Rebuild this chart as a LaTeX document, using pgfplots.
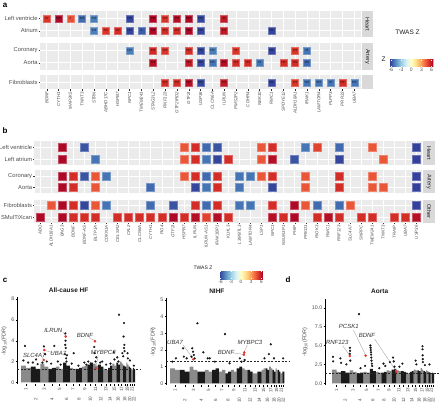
\documentclass[border=0pt]{standalone}
\usepackage{pgfplots}
\usepackage{pgfplotstable}
\pgfplotsset{compat=1.18}
\usepackage{fontspec}
\setmainfont{Liberation Sans}
\definecolor{bg}{HTML}{EBEBEB}
\definecolor{stripc}{HTML}{D9D9D9}
\definecolor{txt}{HTML}{4D4D4D}
\definecolor{dk}{HTML}{1A1A1A}
\definecolor{gy}{HTML}{8A8A8A}
\definecolor{hl}{HTML}{E8312A}
\definecolor{lead}{HTML}{A0A0A0}
\definecolor{lab}{HTML}{333333}
\newcommand\fs[1]{\fontsize{#1}{#1}\selectfont}
\newcommand\up[1]{\makebox[5pt]{#1}}
\newcommand\dn[1]{\makebox[5pt]{#1}\rule{10pt}{0pt}}
\newcommand\strip[3]{\fill[stripc] ([xshift=1pt]rel axis cs:1,0) rectangle ([xshift=#1]rel axis cs:1,1);
  \node[rotate=-90, font=\fs{5.5}, text=dk, inner sep=0pt] at ([xshift=#2]rel axis cs:1,0.5) {#3};}
\tikzset{
  glab/.style={font=\fs{6}\itshape, text=lab, inner sep=0pt},
  mtitle/.style={font=\bfseries\fs{6.5}, text=dk},
}
\pgfplotsset{
  /pgf/number format/assume math mode=true,
  colormap={rdylbu}{rgb255=(49,54,149) rgb255=(69,117,180) rgb255=(116,173,209) rgb255=(171,217,233) rgb255=(224,243,248) rgb255=(255,255,191) rgb255=(254,224,144) rgb255=(253,174,97) rgb255=(244,109,67) rgb255=(215,48,39) rgb255=(165,0,38)},
  hm/.style={scale only axis, clip=false, anchor=north west,
    axis background/.style={fill=bg}, axis line style={draw=none},
    grid=major, major grid style={white, line width=0.5pt},
    tick align=outside, tick pos=left, major tick length=1.2pt,
    tick style={black!80, line width=0.3pt},
    point meta min=-6.5, point meta max=6.5,
    yticklabel style={font=\fs{5.8}, text=txt, inner sep=1pt},
    xticklabel style={font=\fs{4.4}\itshape, text=txt, rotate=90, anchor=east, inner sep=1pt}},
  tiles/.style={scatter, only marks, mark=square*, mark size=#1, point meta=explicit,
    scatter/use mapped color={draw=mapped color!72!white, fill=mapped color}, line width=0.5pt},
  stars/.style={draw=none, mark=none, point meta=explicit symbolic,
    nodes near coords={\pgfplotspointmeta}, nodes near coords align=center,
    every node near coord/.append style={font=\fs{4}, inner sep=0pt, yshift=-0.7pt, text=black}},
  mh/.style={scale only axis, clip=false, anchor=north west,
    axis lines*=left, x axis line style={draw=none}, y axis line style={line width=0.55pt},
    tick align=outside, major tick length=1.5pt, tick style={black, line width=0.35pt},
    yticklabel style={font=\fs{5.3}, text=txt, inner sep=1pt},
    xticklabel style={font=\fs{4.6}, text=txt, rotate=90, anchor=east, inner sep=0.8pt},
    xtick={124,370,591,785,971,1147,1312,1465,1608,1747,1882,2016,2140,2251,2356,2452,2538,2619,2687,2748,2804,2853},
    xticklabels={\up{1},\dn{2},\up{3},\dn{4},\up{5},\dn{6},\up{7},\dn{8},\up{9},\dn{10},\up{11},\dn{12},\up{13},\dn{14},\up{15},\dn{16},\up{17},\dn{18},\up{19},\dn{20},\up{21},\dn{22}},
    ylabel={-log\textsubscript{10}(FDR)}, ylabel style={font=\fs{5.5}, text=txt}},
}

\pgfplotstableread{
x y z s
0 2 5.1 **
1 2 6.3 ***
2 2 4.5 *
3 2 -5.4 ***
4 2 -5.0 ***
7 2 -6.2 ***
9 2 6.3 ***
10 2 5.1 ***
11 2 6.1 ***
12 2 6.3 ***
13 2 -6.2 ***
15 2 5.8 **
4 1 -5.0 ***
5 1 5.1 ***
6 1 5.3 ***
7 1 -6.2 ***
8 1 -5.7 *
9 1 6.3 ***
10 1 5.3 ***
11 1 5.3 ***
12 1 6.3 ***
13 1 -6.2 ***
15 1 5.8 ***
19 1 -6.2 ***
}\aHeart
\pgfplotstableread{
x y z s
7 2 -5.0 ***
9 2 5.4 ***
10 2 5.1 ***
12 2 5.3 ***
13 2 -6.2 ***
14 2 -5.0 ***
16 2 5.1 **
19 2 -6.2 ***
21 2 5.1 ***
22 2 -5.2 **
9 1 6.1 ***
12 1 5.8 ***
13 1 -6.2 ***
14 1 -5.2 ***
15 1 6.1 ***
16 1 5.3 ***
17 1 5.3 ***
18 1 -5.2 **
20 1 5.3 ***
21 1 5.3 ***
22 1 -5.4 ***
}\aArtery
\pgfplotstableread{
x y z s
10 1 5.3 ***
11 1 5.3 ***
12 1 6.1 ***
13 1 -6.2 ***
15 1 5.8 ***
19 1 -6.2 ***
21 1 5.1 ***
22 1 -5.2 ***
23 1 -5.2 ***
24 1 -5.2 **
25 1 5.3 ***
26 1 -5.2 ***
}\aOther

\pgfplotstableread{
x y z
2 2 6.3
4 2 -5.9
13 2 4.4
14 2 5.3
15 2 -5.4
16 2 -5.9
20 2 4.4
21 2 5.3
24 2 -5.2
25 2 4.8
27 2 -5.4
30 2 4.4
34 2 -6.3
2 1 6.3
5 1 -5.2
13 1 4.4
14 1 5.3
15 1 -5.2
16 1 -6.2
17 1 5.3
20 1 4.4
21 1 6.1
23 1 -5.9
27 1 -6.2
31 1 4.4
34 1 -6.3
}\bHeart
\pgfplotstableread{
x y z
2 2 6.3
3 2 5.3
4 2 -5.9
5 2 4.4
6 2 -5.2
13 2 4.4
14 2 5.3
15 2 -5.4
16 2 5.3
18 2 -5.2
19 2 -5.2
20 2 4.4
21 2 5.3
24 2 4.4
27 2 5.3
30 2 4.4
34 2 -6.3
2 1 6.3
3 1 5.3
5 1 4.4
10 1 -5.4
14 1 -6.2
15 1 -5.2
16 1 5.3
18 1 -5.2
21 1 -6.2
24 1 4.4
27 1 5.3
30 1 4.4
31 1 4.4
34 1 -6.3
}\bArtery
\pgfplotstableread{
x y z
1 2 4.4
2 2 6.3
3 2 5.3
4 2 -6.2
5 2 4.4
6 2 -5.2
10 2 -5.4
12 2 -5.9
14 2 5.3
15 2 -5.4
16 2 5.3
18 2 -5.2
19 2 -5.2
21 2 5.3
23 2 6.3
24 2 4.4
25 2 -5.4
27 2 -5.4
28 2 4.4
34 2 -6.3
0 1 6.3
2 1 6.3
3 1 5.3
4 1 5.3
5 1 5.3
7 1 5.3
8 1 5.3
9 1 5.3
10 1 5.3
11 1 5.3
12 1 6.3
13 1 5.3
14 1 6.1
15 1 4.8
16 1 6.1
17 1 5.3
21 1 6.1
22 1 5.3
23 1 6.3
25 1 5.3
26 1 6.1
27 1 5.3
29 1 5.3
30 1 5.3
32 1 5.3
33 1 5.3
34 1 6.1
}\bOther

\begin{document}
\begin{tikzpicture}
\useasboundingbox (0,0) rectangle (440pt,-404pt);

% ---------------- panel a ----------------
\node[font=\bfseries\fs{8}] at (5pt,-5pt) {a};
\begin{axis}[hm, at={(40pt,-11.5pt)}, width=321pt, height=26pt,
  xmin=-0.57, xmax=26.57, ymin=0.45, ymax=2.55,
  xtick={0,...,26}, xticklabels={}, xtick style={draw=none},
  ytick={1,2}, yticklabels={Atrium,Left ventricle}]
\addplot[tiles=3.5pt] table[x=x,y=y,meta=z] {\aHeart};
\addplot[stars] table[x=x,y=y,meta=s] {\aHeart};
\strip{12pt}{6.5pt}{Heart}
\end{axis}
\begin{axis}[hm, at={(40pt,-43.5pt)}, width=321pt, height=26pt,
  xmin=-0.57, xmax=26.57, ymin=0.45, ymax=2.55,
  xtick={0,...,26}, xticklabels={}, xtick style={draw=none},
  ytick={1,2}, yticklabels={Aorta,Coronary},
  colorbar horizontal,
  colorbar style={at={(389.3pt,-51pt)}, anchor=north west, scale only axis,
    width=44pt, height=7.3pt, xtick={-6,-3,0,3,6},
    xticklabel style={font=\fs{5}, text=txt, inner sep=1pt},
    axis line style={draw=none}, major tick length=1.3pt, tick align=inside,
    xtick style={white, line width=0.4pt}}]
\addplot[tiles=3.5pt] table[x=x,y=y,meta=z] {\aArtery};
\addplot[stars] table[x=x,y=y,meta=s] {\aArtery};
\strip{12pt}{6.5pt}{Artery}
\end{axis}
\begin{axis}[hm, at={(40pt,-75.5pt)}, width=321pt, height=14pt,
  xmin=-0.57, xmax=26.57, ymin=0.45, ymax=1.55,
  xtick={0,...,26},
  xticklabels={BDNF,CYTH1,MAP2K5,TNNT3,STRN,ABHD17C,HSPB7,NPC1,TMEM241,STAG3L2,RNF123,GTF2IRD2,GTF2I,USP36,CLCN6A,ILRUN,PMS2P2,CDHR4,NEK10,RMC1,SPDYE12,ALDH18A1,IRAK1,LAMTOR4,PLPP3,PRR33,UBA7},
  ytick={1}, yticklabels={Fibroblasts}]
\addplot[tiles=3.5pt] table[x=x,y=y,meta=z] {\aOther};
\addplot[stars] table[x=x,y=y,meta=s] {\aOther};
\strip{12pt}{6.5pt}{}
\end{axis}
\node[font=\fs{6.5}, text=dk] at (407.5pt,-32.3pt) {TWAS Z};
\node[font=\fs{6.5}, text=dk] at (383.5pt,-59pt) {Z};

% ---------------- panel b ----------------
\node[font=\bfseries\fs{8}] at (5pt,-131pt) {b};
\begin{axis}[hm, at={(34.5pt,-141.5pt)}, width=387.5pt, height=23.5pt,
  xmin=-0.5, xmax=34.5, ymin=0.5, ymax=2.5,
  xtick={0,...,34}, xticklabels={}, xtick style={draw=none},
  ytick={1,2}, yticklabels={Left atrium,Left ventricle}]
\addplot[tiles=4pt] table[x=x,y=y,meta=z] {\bHeart};
\strip{13pt}{7pt}{Heart}
\end{axis}
\begin{axis}[hm, at={(34.5pt,-170pt)}, width=387.5pt, height=23.5pt,
  xmin=-0.5, xmax=34.5, ymin=0.5, ymax=2.5,
  xtick={0,...,34}, xticklabels={}, xtick style={draw=none},
  ytick={1,2}, yticklabels={Aorta,Coronary}]
\addplot[tiles=4pt] table[x=x,y=y,meta=z] {\bArtery};
\strip{13pt}{7pt}{Artery}
\end{axis}
\begin{axis}[hm, at={(34.5pt,-199.5pt)}, width=387.5pt, height=23.5pt,
  xmin=-0.5, xmax=34.5, ymin=0.5, ymax=2.5,
  xtick={0,...,34},
  xticklabels={ABO,ALDH18A1,BAG3,BDNF,BDNF-AS,BLTP1A,CDKN1A,CELSR2,CFL2,CLCN6A,CYTH1,FIG4,GTF2I,HSPB7,ILRUN,ILRUN-AS1,IRAK1BP1,KLHL3,L3MBTL3,LAMTOR4,LSP1,NPC1,NSUN3P1,PHIP,PRKD1,RIOK3,RMC1,RNF123,SLC4A7,SNRPC,TMEM241,TNNT3,TRAIP,UBA7,USP36},
  xticklabel style={font=\fs{4.3}\itshape},
  ytick={1,2}, yticklabels={SMulTiXcan,Fibroblasts},
  colorbar horizontal,
  colorbar style={at={(219pt,-262.5pt)}, anchor=north west, scale only axis,
    width=44pt, height=8pt, xtick={-6,-3,0,3,6},
    xticklabel style={font=\fs{4.6}, text=txt, inner sep=1pt},
    axis line style={draw=none}, major tick length=1.3pt, tick align=inside,
    xtick style={white, line width=0.4pt}}]
\addplot[tiles=4pt] table[x=x,y=y,meta=z] {\bOther};
\strip{13pt}{7pt}{Other}
\end{axis}
\node[font=\fs{5}, text=dk] at (203pt,-268pt) {TWAS Z};

% ---------------- panel c ----------------
\node[font=\bfseries\fs{8}] at (5pt,-280pt) {c};
\node[font=\bfseries\fs{8}] at (288pt,-280pt) {d};

% All-cause HF
\begin{axis}[mh, at={(17pt,-297pt)}, width=123pt, height=87.4pt,
  xmin=-101, xmax=3005, ymin=-0.2, ymax=8.2, ytick={0,2,4,6,8}]
\addplot[ybar interval, fill=gy, draw=none] coordinates {(0,1.6)(124,1.4)(249,0)(492,1.8)(591,1.5)(690,0)(881,1.5)(971,1.3)(1062,0)(1233,1.4)(1312,1.3)(1392,0)(1538,1.5)(1608,1.6)(1679,0)(1815,1.8)(1882,1.6)(1950,0)(2083,1.3)(2140,1.2)(2198,0)(2305,1.8)(2356,1.6)(2407,0)(2497,2.0)(2538,1.8)(2580,0)(2658,1.9)(2687,1.7)(2717,0)(2780,1.3)(2804,1.2)(2828,0)};
\addplot[ybar interval, fill=dk, draw=none] coordinates {(249,1.5)(370,1.3)(492,0)(690,1.3)(785,1.4)(881,0)(1062,1.9)(1147,1.6)(1233,0)(1392,1.3)(1465,1.4)(1538,0)(1679,1.7)(1747,1.9)(1815,0)(1950,1.7)(2016,1.5)(2083,0)(2198,1.4)(2251,1.6)(2305,0)(2407,1.9)(2452,1.7)(2497,0)(2580,1.6)(2619,1.5)(2658,0)(2717,1.5)(2748,1.4)(2780,0)(2828,1.4)(2853,1.3)(2879,0)};
\addplot[black!85, dash pattern=on 2pt off 1.5pt, line width=0.45pt] coordinates {(-101,1.3)(3005,1.3)};
\addplot[lead, line width=0.35pt] coordinates {(1068,4.8)(1125,4.45)};
\addplot[lead, line width=0.35pt] coordinates {(1720,4.3)(1865,4.0)};
\addplot[lead, line width=0.35pt] coordinates {(530,2.42)(570,2.2)};
\addplot[lead, line width=0.35pt] coordinates {(800,2.85)(600,3.08)};
\addplot[lead, line width=0.35pt] coordinates {(1950,2.65)(1890,1.4)};
\addplot[only marks, mark=*, mark size=0.9pt, dk] coordinates {(100,3.5)(60,2.1)(180,1.9)(300,1.9)(420,1.75)(380,2.2)(580,3.45)(610,2.7)(540,1.9)(650,2.0)(841,3.5)(760,1.8)(930,2.0)(1000,1.7)(1120,4.7)(1125,4.0)(1118,3.6)(1130,3.3)(1110,2.7)(1140,2.3)(1150,2.0)(1160,2.6)(1330,2.8)(1280,1.8)(1450,1.6)(1600,1.9)(1650,1.7)(1760,1.8)(1700,2.0)(1850,3.4)(1860,2.8)(1900,2.4)(1880,2.0)(2000,1.9)(2050,2.0)(2150,1.7)(2260,1.8)(2340,2.9)(2360,2.2)(2430,2.4)(2460,2.0)(2475,6.5)(2601,5.7)(2590,4.4)(2610,3.6)(2600,3.3)(2615,3.0)(2560,2.8)(2580,2.5)(2690,2.8)(2700,2.3)(2750,2.1)(2850,1.6)};
\addplot[only marks, mark=*, mark size=1.1pt, hl] coordinates {(573,2.15)(588,3.1)(1129,4.4)(1869,3.95)(1886,1.35)};
\node[glab] at (axis cs:816,4.96) {ILRUN};
\node[glab] at (axis cs:1616,4.48) {BDNF};
\node[glab] at (axis cs:333,2.62) {SLC4A7};
\node[glab] at (axis cs:942,2.79) {UBA7};
\node[glab] at (axis cs:2078,2.88) {MYBPC3};
\node[mtitle] at (rel axis cs:0.42,1.08) {All-cause HF};
\end{axis}

% NIHF
\begin{axis}[mh, at={(166pt,-298.3pt)}, width=124pt, height=86.7pt,
  xmin=-101, xmax=3023, ymin=-0.1, ymax=5.1, ytick={0,1,2,3,4,5}]
\addplot[ybar interval, fill=gy, draw=none] coordinates {(0,0.9)(124,0.8)(249,0)(492,1.0)(591,0.8)(690,0)(881,0.8)(971,0.7)(1062,0)(1233,0.7)(1312,0.8)(1392,0)(1538,0.8)(1608,0.7)(1679,0)(1815,0.9)(1882,0.8)(1950,0)(2083,0.6)(2140,0.6)(2198,0)(2305,0.8)(2356,0.9)(2407,0)(2497,1.0)(2538,0.9)(2580,0)(2658,0.9)(2687,0.8)(2717,0)(2780,0.6)(2804,0.6)(2828,0)};
\addplot[ybar interval, fill=dk, draw=none] coordinates {(249,0.8)(370,0.7)(492,0)(690,0.7)(785,0.7)(881,0)(1062,0.8)(1147,0.9)(1233,0)(1392,0.6)(1465,0.7)(1538,0)(1679,0.9)(1747,1.0)(1815,0)(1950,0.8)(2016,0.7)(2083,0)(2198,0.7)(2251,0.7)(2305,0)(2407,0.9)(2452,0.8)(2497,0)(2580,0.8)(2619,0.7)(2658,0)(2717,0.8)(2748,0.7)(2780,0)(2828,0.7)(2853,0.7)(2879,0)};
\addplot[black!85, dash pattern=on 2pt off 1.5pt, line width=0.45pt] coordinates {(-101,1.3)(3023,1.3)};
\addplot[lead, line width=0.35pt] coordinates {(330,2.3)(580,1.5)};
\addplot[lead, line width=0.35pt] coordinates {(1590,1.82)(1850,1.74)};
\addplot[lead, line width=0.35pt] coordinates {(1950,2.3)(1870,1.9)};
\addplot[only marks, mark=*, mark size=0.9pt, dk] coordinates {(150,1.5)(60,1.3)(330,2.1)(350,1.6)(420,1.5)(560,2.1)(580,1.9)(600,1.7)(620,1.5)(540,1.6)(690,3.6)(840,1.86)(950,1.5)(1000,1.5)(1130,1.3)(1385,2.95)(1500,1.2)(1760,1.5)(1800,1.3)(1880,1.4)(2380,1.5)(2540,2.34)(2490,1.75)(2620,1.5)(2850,1.5)};
\addplot[only marks, mark=*, mark size=1.1pt, hl] coordinates {(587,1.44)(1860,1.72)(1868,1.85)};
\node[glab] at (axis cs:126,2.46) {UBA7};
\node[glab] at (axis cs:1411,1.86) {BDNF};
\node[glab] at (axis cs:2015,2.46) {MYBPC3};
\node[mtitle] at (rel axis cs:0.41,1.086) {NIHF};
\end{axis}

% Aorta
\begin{axis}[mh, at={(325pt,-298.6pt)}, width=114pt, height=86.6pt,
  xmin=-205, xmax=3020, ymin=-0.25, ymax=11.2, ytick={0,2.5,5,7.5,10},
  yticklabel style={/pgf/number format/.cd, fixed, fixed zerofill, precision=1}]
\addplot[ybar interval, fill=gy, draw=none] coordinates {(0,1.8)(124,1.5)(249,0)(492,1.7)(591,1.5)(690,0)(881,1.5)(971,1.4)(1062,0)(1233,1.5)(1312,1.4)(1392,0)(1538,1.7)(1608,1.6)(1679,0)(1815,1.7)(1882,1.6)(1950,0)(2083,1.4)(2140,1.3)(2198,0)(2305,1.8)(2356,1.7)(2407,0)(2497,2.0)(2538,1.8)(2580,0)(2658,1.7)(2687,1.6)(2717,0)(2780,1.3)(2804,1.2)(2828,0)};
\addplot[ybar interval, fill=dk, draw=none] coordinates {(249,1.6)(370,1.4)(492,0)(690,1.3)(785,1.4)(881,0)(1062,1.9)(1147,1.6)(1233,0)(1392,1.4)(1465,1.5)(1538,0)(1679,1.8)(1747,1.9)(1815,0)(1950,1.6)(2016,1.5)(2083,0)(2198,1.5)(2251,1.6)(2305,0)(2407,1.7)(2452,1.6)(2497,0)(2580,1.6)(2619,1.5)(2658,0)(2717,1.5)(2748,1.4)(2780,0)(2828,1.4)(2853,1.3)(2879,0)};
\addplot[black!85, dash pattern=on 2pt off 1.5pt, line width=0.45pt] coordinates {(-205,1.3)(3020,1.3)};
\addplot[lead, line width=0.35pt] coordinates {(300,4.95)(490,3.7)};
\addplot[lead, line width=0.35pt] coordinates {(600,7.05)(940,3.75)};
\addplot[lead, line width=0.35pt] coordinates {(1200,5.85)(1800,1.65)};
\addplot[only marks, mark=*, mark size=0.9pt, dk] coordinates {(20,3.5)(25,2.9)(230,3.3)(250,2.7)(400,2.5)(500,4.7)(505,4.3)(498,3.9)(510,3.0)(757,9.15)(800,2.0)(930,2.3)(1080,5.0)(1085,4.7)(1090,4.4)(1095,4.1)(1100,3.8)(1105,3.4)(1110,3.0)(1120,2.6)(1130,2.3)(1330,2.0)(1450,2.6)(1500,2.3)(1630,2.8)(1720,3.4)(1740,2.9)(1760,2.2)(1900,2.2)(1985,2.6)(2360,3.0)(2380,2.5)(2552,4.9)(2555,4.5)(2558,3.7)(2560,3.2)(2565,2.8)(2620,2.4)(2750,2.5)};
\addplot[only marks, mark=*, mark size=1.1pt, hl] coordinates {(496,3.6)(945,3.65)(1806,1.55)};
\node[glab] at (axis cs:140,5.37) {RNF123};
\node[glab] at (axis cs:468,7.5) {PCSK1};
\node[glab] at (axis cs:981,6.3) {BDNF};
\node[mtitle] at (rel axis cs:0.48,1.09) {Aorta};
\end{axis}
\end{tikzpicture}
\end{document}
